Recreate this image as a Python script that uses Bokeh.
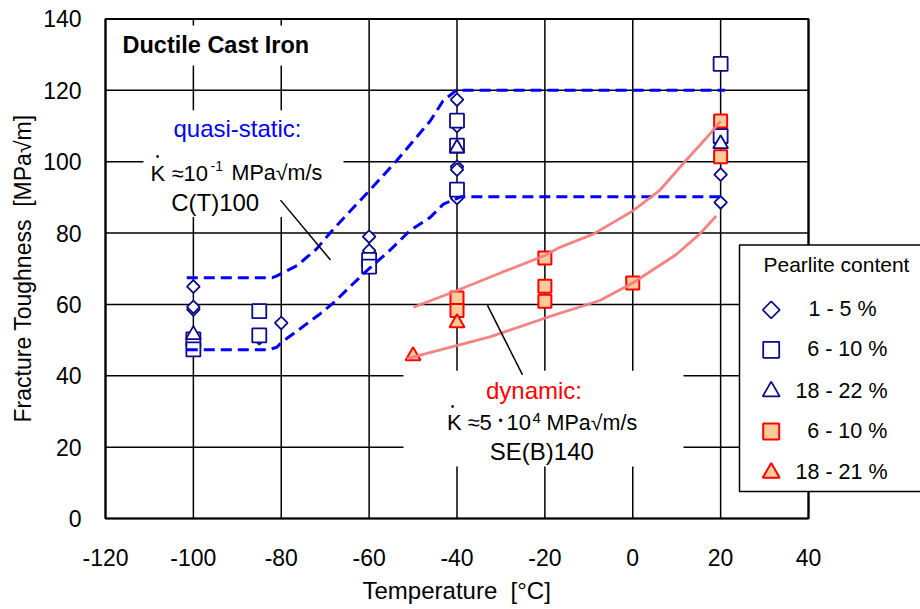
import numpy as np
from bokeh.plotting import figure
from bokeh.models import Label, FixedTicker, Range1d, Title
from bokeh.embed import file_html
from bokeh.resources import INLINE

# ---------------- data ----------------
x_ticks = [-120, -100, -80, -60, -40, -20, 0, 20, 40]
x_tick_labels = ["-120", "-100", "-80", "-60", "-40", "-20", "0", "20", "40"]
y_ticks = [0, 20, 40, 60, 80, 100, 120, 140]
y_tick_labels = ["0", "20", "40", "60", "80", "100", "120", "140"]

# quasi-static, 1-5 % pearlite (diamonds)
qs_dia_T = [-100, -100, -100, -85, -80, -60, -60, -40, -40, -40, -40, -40, 20, 20]
qs_dia_K = [65.0, 58.6, 59.3, 50.5, 54.8, 79.0, 75.1, 117.4, 110.0, 98.6, 97.8, 89.8, 96.4, 88.6]
# quasi-static, 6-10 % pearlite (open squares)
qs_sq_T = [-100, -100, -85, -85, -60, -60, -40, -40, -40, 20, 20]
qs_sq_K = [50.2, 47.4, 58.1, 51.3, 72.5, 70.6, 111.5, 104.5, 92.2, 127.4, 107.2]
# quasi-static, 18-22 % pearlite (open triangles)
qs_tri_T = [-100, -40, 20]
qs_tri_K = [51.5, 103.8, 105.0]
# dynamic, 6-10 % pearlite (filled squares)
dy_sq_T = [-40, -40, -20, -20, -20, 0, 20, 20]
dy_sq_K = [61.8, 58.3, 73.0, 65.1, 60.9, 66.0, 111.4, 101.4]
# dynamic, 18-21 % pearlite (filled triangles)
dy_tri_T = [-50, -40]
dy_tri_K = [45.6, 54.8]

# quasi-static scatter band (dashed)
qs_up_T = [-101.5, -82, -81, -76.4, -72, -68.9, -64.3, -60.6, -53.8, -46.1, -43.2, -40.2, 21]
qs_up_K = [67.5, 67.5, 68.0, 70.9, 75.5, 80.0, 86.2, 91.0, 100.2, 111.4, 117.0, 120.0, 120.0]
qs_lo_T = [-101.5, -83, -81, -80, -75.7, -71.1, -68, -61.3, -55, -50.7, -46.1, -43.1, -39, 20.5]
qs_lo_K = [47.3, 47.3, 48.0, 49.3, 53.2, 57.4, 60.6, 68.6, 75.5, 80.7, 84.4, 88.1, 90.2, 90.2]
# dynamic scatter band (solid)
dy_up_T = [-49.9, -40, -30, -20, -16.6, -9, 0, 6, 12, 16.8, 20]
dy_up_K = [59.2, 63.9, 68.9, 73.7, 76.0, 79.7, 86.2, 91.8, 100.2, 106.7, 111.4]
dy_lo_T = [-51.4, -32.5, -20.4, -7.5, 0, 9.9, 15.2, 19]
dy_lo_K = [44.8, 50.9, 56.0, 61.1, 66.0, 74.0, 79.7, 84.8]

x_title = "Temperature\u00a0 [°C]"
y_title = "Fracture Toughness\u00a0 [MPa√m]"
legend_title = "Pearlite content"
legend_labels = ["1 - 5 %", "6 - 10 %", "18 - 22 %", "6 - 10 %", "18 - 21 %"]

# ---------------- styling ----------------
FONT = "Liberation Sans"
NAVY = "#0a0a8a"
BLUE = "#0000ff"
RED = "#ff0000"
PEACH = "#ffcc99"
PINK = "#f47c7c"


# pixel (reference picture) -> data, used only for placing annotations
def dx(px):
    return -120 + (px - 105) * 160 / 703


def dy(py):
    return (519 - py) * 140 / 500.5


p = figure(width=920, height=609,
           x_range=Range1d(dx(103), dx(920)), y_range=Range1d(dy(521), dy(16)),
           output_backend="svg", toolbar_location=None,
           min_border_left=103, min_border_right=0, min_border_top=16, min_border_bottom=88)

p.background_fill_color = "white"
p.border_fill_color = "white"
p.outline_line_color = None
p.xgrid.visible = False
p.ygrid.visible = False

p.xaxis.ticker = FixedTicker(ticks=x_ticks)
p.yaxis.ticker = FixedTicker(ticks=y_ticks)
p.xaxis.major_label_overrides = dict(zip(x_ticks, x_tick_labels))
p.yaxis.major_label_overrides = dict(zip(y_ticks, y_tick_labels))

for ax in (p.xaxis, p.yaxis):
    ax.axis_line_color = None
    ax.major_tick_line_color = None
    ax.minor_tick_line_color = None
    ax.major_label_text_font = FONT
    ax.major_label_text_font_size = "23px"
    ax.major_label_text_color = "black"
    ax.axis_label_text_font = FONT
    ax.axis_label_text_font_style = "normal"
    ax.axis_label_text_color = "black"

p.yaxis.axis_label = y_title
p.yaxis.axis_label_text_font_size = "23px"
p.xaxis.major_label_standoff = 22
p.yaxis.major_label_standoff = 16
p.yaxis.axis_label_standoff = 4

# x-axis title: centred under the -120..40 part of the frame
p.add_layout(Title(text=x_title, align="left", offset=362 - 103, standoff=12,
                   text_font=FONT, text_font_size="24px", text_font_style="normal",
                   text_color="black"), "below")

# grid (from the tick lists) and plot border
n_x, n_y = len(x_ticks), len(y_ticks)
p.segment(x0=x_ticks, y0=[y_ticks[0]] * n_x, x1=x_ticks, y1=[y_ticks[-1]] * n_x,
          line_color="black", line_width=1.5)
p.segment(x0=[x_ticks[0]] * n_y, y0=y_ticks, x1=[x_ticks[-1]] * n_y, y1=y_ticks,
          line_color="black", line_width=1.5)
p.quad(left=x_ticks[0], right=x_ticks[-1], bottom=y_ticks[0], top=y_ticks[-1],
       fill_color=None, line_color="black", line_width=2.2)

# white boxes behind the annotations
for (l, r, t, b) in [(112, 318, 25, 65), (143, 343, 110, 217), (403, 683, 371, 467)]:
    p.quad(left=dx(l), right=dx(r), top=dy(t), bottom=dy(b),
           fill_color="white", line_color=None)

# markers
p.scatter(qs_dia_T, qs_dia_K, marker="square", angle=np.pi / 4, size=9,
          line_color=NAVY, line_width=1.8, fill_color="white")
p.scatter(qs_sq_T, qs_sq_K, marker="square", size=14,
          line_color=NAVY, line_width=1.8, fill_color="white")
p.scatter(qs_tri_T, qs_tri_K, marker="triangle", size=15,
          line_color=NAVY, line_width=1.8, fill_color="white")
p.scatter(dy_sq_T, dy_sq_K, marker="square", size=13,
          line_color=RED, line_width=2, fill_color=PEACH)
p.scatter(dy_tri_T, dy_tri_K, marker="triangle", size=15,
          line_color=RED, line_width=2, fill_color=PEACH)

# bands
p.line(qs_up_T, qs_up_K, line_color=BLUE, line_width=3, line_dash="11 6")
p.line(qs_lo_T, qs_lo_K, line_color=BLUE, line_width=3, line_dash="11 6")
p.line(dy_up_T, dy_up_K, line_color=PINK, line_width=2.8, line_alpha=0.95)
p.line(dy_lo_T, dy_lo_K, line_color=PINK, line_width=2.8, line_alpha=0.95)

# leader lines
p.line([dx(280), dx(330)], [dy(200), dy(260)], line_color="black", line_width=1.5)
p.line([dx(487), dx(522)], [dy(305.5), dy(375)], line_color="black", line_width=1.5)

# legend box with its symbols
p.quad(left=dx(739), right=dx(922), top=dy(245), bottom=dy(492),
       fill_color="white", line_color="black", line_width=1.5)
leg_x = dx(770.7)
leg_y = [dy(v) for v in (310, 350, 391.7, 431.7, 473.3)]
p.scatter([leg_x], [leg_y[0]], marker="square", angle=np.pi / 4, size=12,
          line_color=NAVY, line_width=1.6, fill_color="white")
p.scatter([leg_x], [leg_y[1]], marker="square", size=16,
          line_color=NAVY, line_width=1.8, fill_color="white")
p.scatter([leg_x], [leg_y[2]], marker="triangle", size=17,
          line_color=NAVY, line_width=1.8, fill_color="white")
p.scatter([leg_x], [leg_y[3]], marker="square", size=16,
          line_color=RED, line_width=2, fill_color=PEACH)
p.scatter([leg_x], [leg_y[4]], marker="triangle", size=17,
          line_color=RED, line_width=2, fill_color=PEACH)


def lab(px, py, text, size, color="black", align="left", style="normal"):
    p.add_layout(Label(x=dx(px), y=dy(py), text=text, text_font=FONT,
                       text_font_size=size, text_color=color, text_align=align,
                       text_baseline="middle", text_font_style=style))


lab(122, 45, "Ductile Cast Iron", "23.5px", style="bold")
# quasi-static annotation
lab(237, 128.5, "quasi-static:", "24px", BLUE, "center")
lab(150, 173, "K", "22px")
lab(157, 156.5, "•", "10px", align="center")
lab(171, 173, "≈10", "22px")
lab(210, 165.5, "-1", "14px")
lab(231, 173, "MPa√m/s", "21.5px")
lab(214.7, 202.5, "C(T)100", "24px", align="center")
# dynamic annotation
lab(533.5, 391, "dynamic:", "24px", RED, "center")
lab(446.5, 423.3, "K", "22px")
lab(452, 406.5, "•", "10px", align="center")
lab(467, 423.3, "≈5", "22px")
lab(500, 421.5, "•", "12px", align="center")
lab(506, 423.3, "10", "22px")
lab(532, 418.5, "4", "15px")
lab(546, 423.3, "MPa√m/s", "21.5px")
lab(541.3, 451.7, "SE(B)140", "24px", align="center")

# legend texts
lab(763, 264.5, legend_title, "21px")
for txt, xl, yl in zip(legend_labels, (808, 806.7, 795, 806.7, 795),
                       (309, 349, 391, 431, 472.5)):
    lab(xl, yl, txt, "21.5px")

open("out.html", "w").write(file_html(p, INLINE))
